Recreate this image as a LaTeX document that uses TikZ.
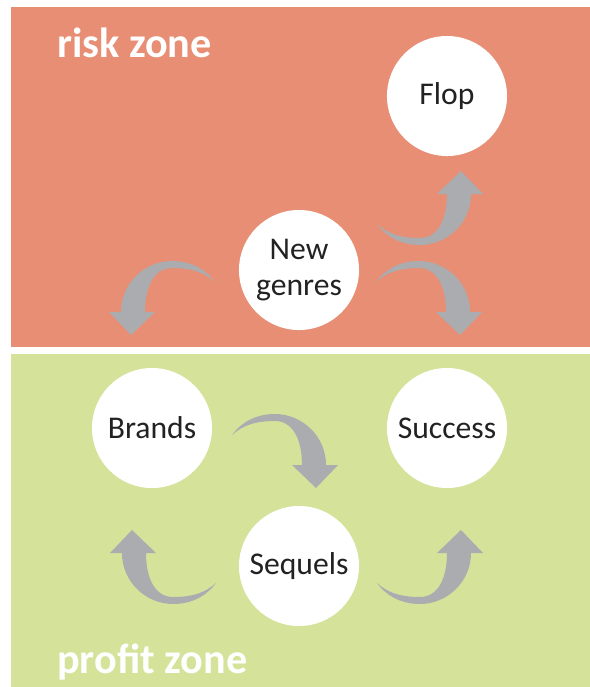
\documentclass[tikz,border=0pt]{standalone}
\usepackage{fontspec}
\setmainfont{Carlito}
\usepackage{tikz}

\definecolor{riskred}{HTML}{E88E74}
\definecolor{profitgreen}{HTML}{D4E29A}
\definecolor{arrowgray}{HTML}{AAACB0}
\definecolor{textdark}{HTML}{222222}

\tikzset{
	stage/.style={circle, fill=white, minimum size=3cm, inner sep=0pt, align=center,
		text=textdark, font=\fontsize{22.5}{25}\selectfont},
	zonelabel/.style={anchor=base west, text=white, inner sep=0pt,
		font=\fontsize{30}{32}\selectfont\bfseries},
	bendarrow/.pic={
		\fill[arrowgray] (-10,-23) .. controls (-10,-52) and (14,-74) .. (41,-74)
			.. controls (62,-74) and (76,-64) .. (84,-53)
			.. controls (74,-62) and (62,-67) .. (41,-67)
			.. controls (24,-67) and (14,-50) .. (14,-23)
			-- (24,-23) -- (0,0) -- (-22,-23) -- cycle;
	}
}

\begin{document}
\begin{tikzpicture}[x=0.025cm, y=-0.025cm]
	\useasboundingbox (0,0) rectangle (590,687);
	\fill[white] (0,0) rectangle (590,687);

	%zones
	\fill[riskred]		(11,7) rectangle (590,347);
	\fill[profitgreen]	(11,354) rectangle (590,687);
	\node[zonelabel] (risk) at (57,57) 		{risk zone};
	\node[zonelabel] (profit) at (57,673) 	{profit zone};

	%stages
	\node[stage] (flop) 	at (447,96) 	{Flop};
	\node[stage] (genres) 	at (299,270) 	{New\\genres};
	\node[stage] (brands) 	at (152,428) 	{Brands};
	\node[stage] (success) 	at (447,428) 	{Success};
	\node[stage] (sequels) 	at (299,566) 	{Sequels};

	%arrows
	\pic at (131,335) 				{bendarrow};
	\pic[xscale=-1] at (460,335) 	{bendarrow};
	\pic[rotate=180] at (461,171) 	{bendarrow};
	\pic[xscale=-1] at (316,488) 	{bendarrow};
	\pic[yscale=-1] at (132,530) 	{bendarrow};
	\pic[rotate=180] at (461,530) 	{bendarrow};
\end{tikzpicture}
\end{document}
